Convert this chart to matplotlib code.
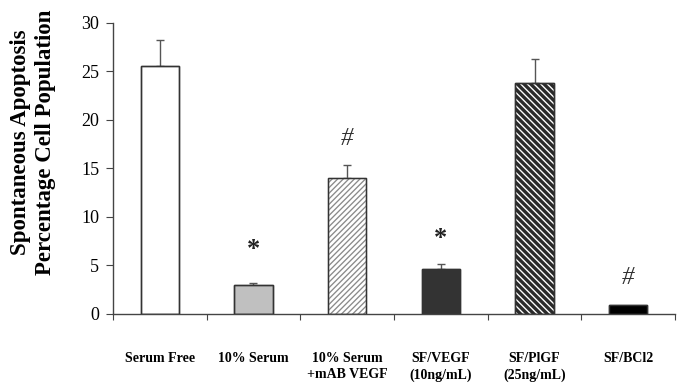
import numpy as np
import matplotlib as mpl
import matplotlib.pyplot as plt

# data
groups = ["Serum Free", "10% Serum", "10% Serum\n+mAB VEGF", "SF/VEGF\n(10ng/mL)",
          "SF/PlGF\n(25ng/mL)", "SF/BCl2"]
apoptosis = [25.5, 2.95, 14.0, 4.65, 23.8, 0.95]
err_up = [2.65, 0.27, 1.35, 0.45, 2.4, 0.0]
marks = ["", "*", "#", "*", "", "#"]
mark_y = [0, 6.6, 18.0, 7.8, 0, 3.7]

plt.rcParams['font.family'] = ['Liberation Serif', 'DejaVu Serif']

fig = plt.figure(figsize=(6.85, 3.85), dpi=100)
ax = fig.add_axes([113/685, 1-314/385, (675-113)/685, (314-22.5)/385])

x = np.arange(len(groups))
faces = ['white', '#c0c0c0', 'white', '#333333', 'white', 'black']
hatches = [None, None, '//////', None, '\\\\\\\\\\', None]
hcolors = ['#333333', '#333333', '#8a8a8a', '#333333', '#2a2a2a', 'black']
hwidths = [1.0, 1.0, 0.95, 1.0, 2.4, 1.0]

for i in range(len(x)):
    with mpl.rc_context({'hatch.linewidth': hwidths[i]}):
        bars = ax.bar(x[i], apoptosis[i], width=0.41, color=faces[i], edgecolor=hcolors[i],
                      hatch=hatches[i], linewidth=1.0, zorder=2)
    for p in bars:
        if hasattr(p, 'set_hatch_linewidth'):
            p.set_hatch_linewidth(hwidths[i])
    # outline over the hatch
    ax.bar(x[i], apoptosis[i], width=0.41, fill=False, edgecolor='#333333', linewidth=1.0, zorder=3)
    if err_up[i] > 0:
        ax.errorbar(x[i], apoptosis[i], yerr=[[0], [err_up[i]]], fmt='none',
                    ecolor='#555555', elinewidth=1.0, capsize=3, capthick=1.0, zorder=1)
    if marks[i] == '*':
        ax.text(x[i], mark_y[i], marks[i], ha='center', va='center',
                fontsize=19, fontweight='bold', color='#222222')
    elif marks[i] == '#':
        ax.text(x[i], mark_y[i], marks[i], ha='center', va='center',
                fontsize=18, style='italic', color='#333333')

ax.set_xlim(-0.5, len(groups) - 0.5)
ax.set_ylim(0, 30)
ax.set_yticks(np.arange(0, 31, 5))
ax.tick_params(axis='y', labelsize=13, length=5, direction='out', color='#444444', pad=5)

ax.set_xticks(np.arange(-0.5, len(groups), 1.0))
ax.set_xticklabels([])
ax.tick_params(axis='x', which='major', length=4, direction='out', color='#444444')
ax.set_xticks(x, minor=True)
ax.set_xticklabels(groups, minor=True, fontsize=10, fontweight='bold', linespacing=1.35)
ax.tick_params(axis='x', which='minor', length=0, pad=27)

for s in ['top', 'right']:
    ax.spines[s].set_visible(False)
for s in ['left', 'bottom']:
    ax.spines[s].set_color('#444444')
    ax.spines[s].set_linewidth(1.0)

# y label placed by hand, two lines
fig.text(33/685, 1-142/385, "Spontaneous Apoptosis\nPercentage Cell Population",
         rotation=90, ha='center', va='center', fontsize=16.5, fontweight='bold',
         linespacing=1.25)

fig.savefig("out.png", dpi=100)
